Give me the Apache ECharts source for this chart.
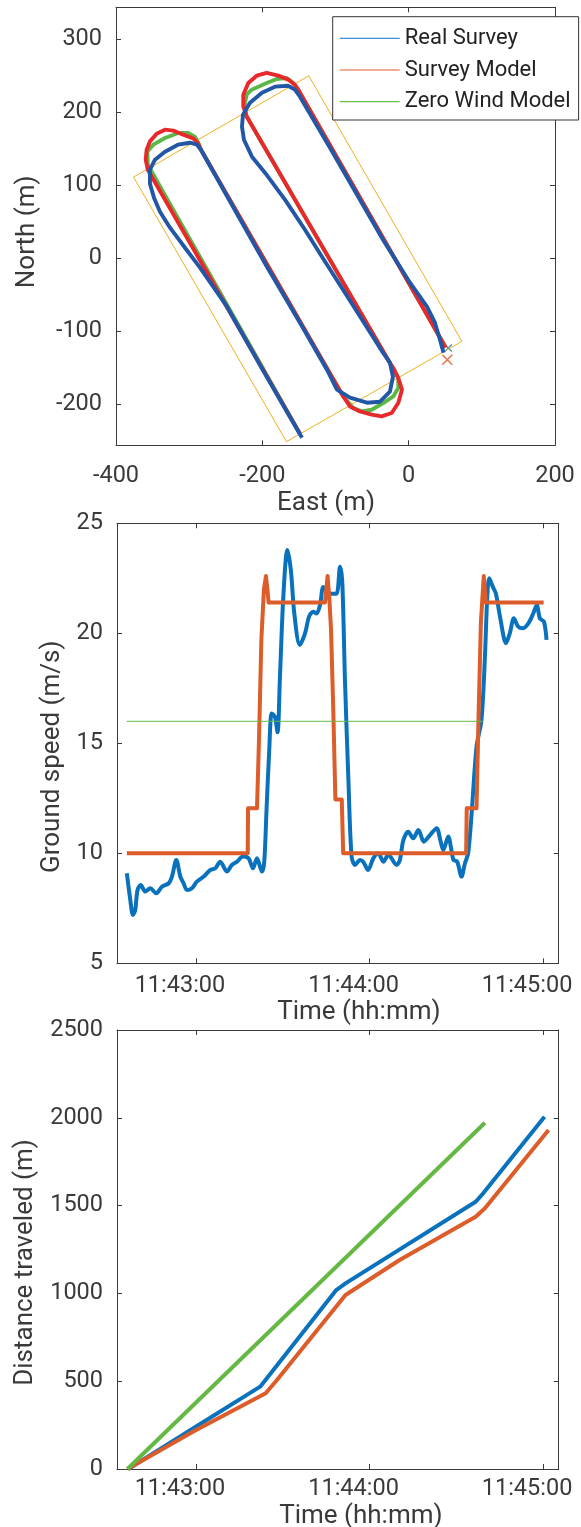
<!DOCTYPE html>
<html><head><meta charset="utf-8">
<script src="https://cdn.jsdelivr.net/npm/echarts@6.0.0/dist/echarts.min.js"></script>
<style>html,body{margin:0;padding:0;background:#fff}#c{width:581px;height:1527px}</style>
</head><body><div id="c"></div>
<script>
// ---------- Panel 1: track (East, North in m) ----------
const surveyArea = [[-376,111],[-136.5,250],[72.8,-114.4],[-167,-252],[-376,111]];
const realSurveyPath = [[-145.8,-246.6],[-196.4,-158.8],[-248.3,-66.8],[-285.2,-13.3],[-305.7,14.1],[-326.2,41.6],[-339.9,63.5],[-348.1,82.8],[-353.6,102.0],[-353.6,121.2],[-346.7,134.9],[-333.1,145.9],[-315.3,155.5],[-298.9,158.2],[-289.3,155.5],[-283.9,148.6],[-240.1,70.4],[-193.7,-11.9],[-148.6,-88.8],[-111.7,-153.3],[-98.0,-180.7],[-80.2,-191.7],[-57.0,-198.6],[-39.2,-197.2],[-25.6,-183.5],[-21.5,-162.9],[-25.6,-143.7],[-35.1,-130.0],[-77.5,-62.7],[-118.5,1.8],[-141.7,38.8],[-169.1,80.0],[-196.4,117.1],[-214.2,139.0],[-225.1,162.3],[-227.8,180.2],[-226.5,196.7],[-216.9,213.1],[-200.5,226.8],[-182.7,235.1],[-165.0,236.4],[-155.4,231.0],[-148.6,221.4],[-107.6,151.4],[-66.6,80.0],[-35.1,25.1],[1.8,-33.9],[25.0,-66.8],[35.9,-88.8],[42.8,-112.1],[46.9,-127.2],[47.5,-130]];
const surveyModelPath = [[-148.6,-241.1],[-356.6,121.2],[-359.4,134.9],[-358.1,148.6],[-353.6,160.0],[-344.4,170.6],[-333.1,176.1],[-321.7,174.7],[-308.1,169.2],[-294.4,164.1],[-287.5,156.9],[-283.9,148.6],[-89.4,-190.0],[-80.2,-203.7],[-66.6,-210.5],[-50.6,-215.0],[-36.9,-217.4],[-23.2,-212.7],[-14.2,-199.0],[-9.2,-180.7],[-14.2,-164.7],[-21.0,-151.0],[-25.6,-144.1],[-221.4,194.3],[-226.0,208.0],[-226.0,224.1],[-219.2,240.2],[-207.7,250.2],[-194.1,253.9],[-178.2,250.2],[-164.5,244.7],[-155.4,237.8],[-150.9,230.9],[-148.6,226.8],[50.6,-122.7]];
const zeroWindPath = [[-148.6,-241.1],[-356.6,128.0],[-357.1,146.3],[-348.9,155.5],[-333.1,164.7],[-314.9,171.5],[-301.2,171.5],[-292.0,166.0],[-287.5,157.8],[-283.9,148.6],[-89.4,-190.0],[-75.7,-205.8],[-64.2,-210.5],[-50.6,-208.2],[-34.7,-199.0],[-21.0,-189.9],[-14.2,-178.4],[-14.2,-164.7],[-21.0,-151.0],[-25.6,-144.1],[-221.4,194.3],[-224.4,209.5],[-221.4,224.1],[-214.6,230.9],[-196.4,239.1],[-180.4,245.6],[-166.7,247.0],[-157.7,240.2],[-150.9,230.9],[-148.6,226.8],[50.6,-122.7]];
const modelEndMarker = [[52.8,-139.6]];
const realEndMarker = [[54.1,-123.5]];
const northTicks = [-200,-100,0,100,200,300];

// ---------- Panel 2: ground speed (time = seconds after 11:42:00) ----------
const realSpeed = [[36.1,9.09],[37.3,7.88],[38.2,7.2],[39.0,7.42],[39.8,8.33],[40.9,8.56],[42.5,8.26],[44.2,8.41],[46.3,8.18],[48.2,8.48],[50.6,8.64],[51.7,8.94],[53.2,9.70],[54.6,8.94],[55.7,8.64],[56.9,8.33],[58.6,8.41],[60.3,8.71],[62.7,8.94],[64.9,9.24],[66.7,9.32],[68.4,9.62],[70.7,9.17],[72.4,9.47],[74.2,9.62],[76.2,9.85],[78.2,9.77],[79.7,9.32],[81.1,9.77],[82.8,9.17],[83.6,9.6],[84.4,12.0],[85.3,14.6],[86.2,16.36],[87.3,16.2],[88.2,15.5],[89.0,17.9],[90.2,21.66],[91.6,23.79],[92.8,22.88],[94.0,20.9],[95.9,19.47],[97.7,20.0],[99.1,20.76],[100.5,20.98],[101.7,20.9],[102.9,21.3],[104.0,22.1],[105.2,21.9],[106.9,21.8],[108.6,21.8],[109.8,23.03],[110.6,22.27],[111.5,17.9],[112.7,13.33],[113.8,9.85],[115.0,9.47],[116.7,9.7],[117.8,9.62],[119.5,9.24],[121.3,9.77],[123.0,10.0],[124.8,9.62],[126.5,9.92],[129.4,9.47],[130.5,9.7],[131.7,10.6],[133.4,10.98],[135.1,10.68],[136.9,11.06],[138.8,10.53],[140.9,10.83],[143.2,11.14],[144.6,10.53],[145.5,10.15],[147.2,10.76],[149.0,9.70],[150.3,9.62],[151.8,8.94],[153.0,9.55],[154.1,10.0],[155.3,11.82],[157.0,14.85],[158.7,16.06],[159.9,18.94],[160.7,21.66],[161.4,22.5],[162.6,22.12],[163.7,21.8],[165.1,20.76],[167.2,19.55],[168.5,20.0],[169.9,20.68],[171.4,20.3],[173.1,20.23],[174.9,20.45],[176.6,20.9],[177.8,21.29],[178.9,20.68],[180.3,20.53],[181.2,19.7]];
const modelSpeed = [[36.1,10],[77.9,10],[78.0,12.05],[81.1,12.05],[81.8,15.2],[82.6,19.7],[83.5,22.0],[84.2,22.6],[84.7,22.0],[85.1,21.4],[104.6,21.4],[105.5,22.6],[106.1,21.6],[106.7,20.15],[107.5,16.36],[108.2,12.45],[110.4,12.45],[110.9,10],[153.4,10],[153.6,12.05],[157.0,12.05],[157.7,16.3],[158.5,20.5],[159.5,22.6],[160.2,21.4],[180.2,21.4]];
const zeroWindSpeed = [[36.1,16],[159.3,16]];

// ---------- Panel 3: distance traveled ----------
const realDistance = [[36.6,0],[59.1,232],[82.2,469],[108.5,1019],[111.7,1057],[156.7,1522],[159.3,1570],[180.5,2006]];
const modelDistance = [[36.3,0],[59.1,213],[84.1,431],[88.0,507],[111.7,991],[130.4,1190],[156.7,1437],[159.9,1485],[181.9,1931]];
const zeroWindDistance = [[36.3,0],[159.9,1972]];

const timeTicks = [60,120,180];
const timeTickLabels = ['11:43:00','11:44:00','11:45:00'];

// ---------- styling ----------
const FONT = 'Roboto';
const AXC = '#3a3a3a';
const TXT = '#3a3a3a';
const tickStyle = {show:true, inside:true, length:5, lineStyle:{color:AXC, width:1}};
const lineAx = {show:true, onZero:false, lineStyle:{color:AXC, width:1}};
const plainFmt = v => String(v);
const labelFont = {fontFamily:FONT, fontSize:23.5, lineHeight:24, color:TXT, formatter:plainFmt};
const nameFont = {fontFamily:FONT, fontSize:26, lineHeight:26, color:TXT};

function xAx(grid, pos, min, max, extra, labelExtra, tickVals){
  const a = {type:'value', gridIndex:grid, position:pos, min:min, max:max,
    axisLine:lineAx, splitLine:{show:false},
    axisTick:Object.assign({}, tickStyle, tickVals?{customValues:tickVals}:{}),
    axisLabel:Object.assign({show:pos==='bottom'}, labelFont, labelExtra||{}, tickVals?{customValues:tickVals}:{})};
  return Object.assign(a, extra||{});
}
function yAx(grid, pos, min, max, extra, labelExtra, tickVals){
  const a = {type:'value', gridIndex:grid, position:pos, min:min, max:max,
    axisLine:lineAx, splitLine:{show:false},
    axisTick:Object.assign({}, tickStyle, tickVals?{customValues:tickVals}:{}),
    axisLabel:Object.assign({show:pos==='left'}, labelFont, {margin:14}, labelExtra||{}, tickVals?{customValues:tickVals}:{})};
  return Object.assign(a, extra||{});
}
const timeFmt = v => { const i = timeTicks.indexOf(Math.round(v)); return i>=0 ? timeTickLabels[i] : ''; };
const LINE_ICON = 'path://M0,0H60V1.2H0Z';

const option = {
  animation:false,
  backgroundColor:'#fff',
  textStyle:{fontFamily:FONT},
  grid:[
    {left:116, top:7.3, width:439, height:438, containLabel:false, outerBoundsMode:'none'},
    {left:117, top:523.3, width:441.7, height:440, containLabel:false, outerBoundsMode:'none'},
    {left:117, top:1030, width:441.7, height:439, containLabel:false, outerBoundsMode:'none'}
  ],
  xAxis:[
    xAx(0,'bottom',-400,200,{interval:200, name:'East (m)', nameLocation:'middle', nameGap:45, nameTextStyle:Object.assign({padding:[0,19,0,0]}, nameFont)},{margin:19}),
    xAx(0,'top',-400,200,{interval:200}),
    xAx(1,'bottom',32.7,185.4,{name:'Time (hh:mm)', nameLocation:'middle', nameGap:36, nameTextStyle:Object.assign({padding:[0,0,0,42]}, nameFont)},{margin:10.5, padding:[0,32,0,0], formatter:timeFmt}, timeTicks),
    xAx(1,'top',32.7,185.4,{},{}, timeTicks),
    xAx(2,'bottom',32.7,185.4,{name:'Time (hh:mm)', nameLocation:'middle', nameGap:34, nameTextStyle:Object.assign({padding:[0,0,0,46]}, nameFont)},{margin:8.5, padding:[0,32,0,0], formatter:timeFmt}, timeTicks),
    xAx(2,'top',32.7,185.4,{},{}, timeTicks)
  ],
  yAxis:[
    yAx(0,'left',-257,344,{name:'North (m)', nameLocation:'middle', nameGap:76, nameTextStyle:Object.assign({padding:[0,11,0,0]}, nameFont)},{}, northTicks),
    yAx(0,'right',-257,344,{},{}, northTicks),
    yAx(1,'left',5,25,{interval:5, name:'Ground speed (m/s)', nameLocation:'middle', nameGap:51, nameTextStyle:Object.assign({padding:[0,27,0,0]}, nameFont)}),
    yAx(1,'right',5,25,{interval:5}),
    yAx(2,'left',0,2500,{interval:500, name:'Distance traveled (m)', nameLocation:'middle', nameGap:79, nameTextStyle:Object.assign({padding:[0,26,0,0]}, nameFont)}),
    yAx(2,'right',0,2500,{interval:500})
  ],
  legend:{
    show:true, selectedMode:false, orient:'vertical', left:332.7, top:16.7,
    itemWidth:60, itemHeight:22, itemGap:9.7, padding:[10.6,8,7.3,7],
    borderColor:'#333', borderWidth:1, backgroundColor:'#fff', borderRadius:0,
    symbolKeepAspect:true,
    textStyle:{fontFamily:FONT, fontSize:22, lineHeight:22, color:'#222'},
    data:[
      {name:'Real Survey', icon:LINE_ICON, itemStyle:{color:'#3b8fd4', borderWidth:0}},
      {name:'Survey Model', icon:LINE_ICON, itemStyle:{color:'#e35b2b', borderWidth:0}},
      {name:'Zero Wind Model', icon:LINE_ICON, itemStyle:{color:'#6cbf48', borderWidth:0}}
    ]
  },
  series:[
    {name:'Survey area', type:'line', xAxisIndex:0, yAxisIndex:0, data:surveyArea, symbol:'none', silent:true,
     lineStyle:{color:'#EDB120', width:1}, itemStyle:{color:'#EDB120'}},
    {name:'Zero Wind Model', type:'line', xAxisIndex:0, yAxisIndex:0, data:zeroWindPath, symbol:'none',
     lineStyle:{color:'#5cb846', width:3.9, join:'round'}, itemStyle:{color:'#5cb846'}},
    {name:'Survey Model', type:'line', xAxisIndex:0, yAxisIndex:0, data:surveyModelPath, symbol:'none',
     lineStyle:{color:'#e8282b', width:3.9, join:'round'}, itemStyle:{color:'#e8282b'}},
    {name:'Real Survey', type:'line', xAxisIndex:0, yAxisIndex:0, data:realSurveyPath, symbol:'none',
     lineStyle:{color:'#2157a6', width:3.9, join:'round'}, itemStyle:{color:'#2157a6'}},
    {name:'Model end', type:'scatter', xAxisIndex:0, yAxisIndex:0, data:modelEndMarker, symbol:'path://M0,0L10,10M10,0L0,10', symbolSize:10,
     itemStyle:{color:'rgba(0,0,0,0)', borderColor:'#D95319', borderWidth:1.5}, silent:true},
    {name:'Real end', type:'scatter', xAxisIndex:0, yAxisIndex:0, data:realEndMarker, symbol:'path://M0,0L10,10M10,0L0,10', symbolSize:7,
     itemStyle:{color:'rgba(0,0,0,0)', borderColor:'#0072BD', borderWidth:1.2}, silent:true},

    {name:'Real speed', type:'line', xAxisIndex:2, yAxisIndex:2, data:realSpeed, symbol:'none', smooth:0.3,
     lineStyle:{color:'#0a72bd', width:4, join:'round'}},
    {name:'Model speed', type:'line', xAxisIndex:2, yAxisIndex:2, data:modelSpeed, symbol:'none',
     lineStyle:{color:'#dc5c2a', width:4, join:'round'}},
    {name:'Zero wind speed', type:'line', xAxisIndex:2, yAxisIndex:2, data:zeroWindSpeed, symbol:'none',
     lineStyle:{color:'#66b845', width:1}},

    {name:'Real distance', type:'line', xAxisIndex:4, yAxisIndex:4, data:realDistance, symbol:'none',
     lineStyle:{color:'#0a72bd', width:4, join:'round'}},
    {name:'Model distance', type:'line', xAxisIndex:4, yAxisIndex:4, data:modelDistance, symbol:'none',
     lineStyle:{color:'#dc5c2a', width:4, join:'round'}},
    {name:'Zero wind distance', type:'line', xAxisIndex:4, yAxisIndex:4, data:zeroWindDistance, symbol:'none',
     lineStyle:{color:'#66b845', width:4}}
  ]
};
const chart = echarts.init(document.getElementById('c'));
chart.setOption(option);
</script></body></html>
